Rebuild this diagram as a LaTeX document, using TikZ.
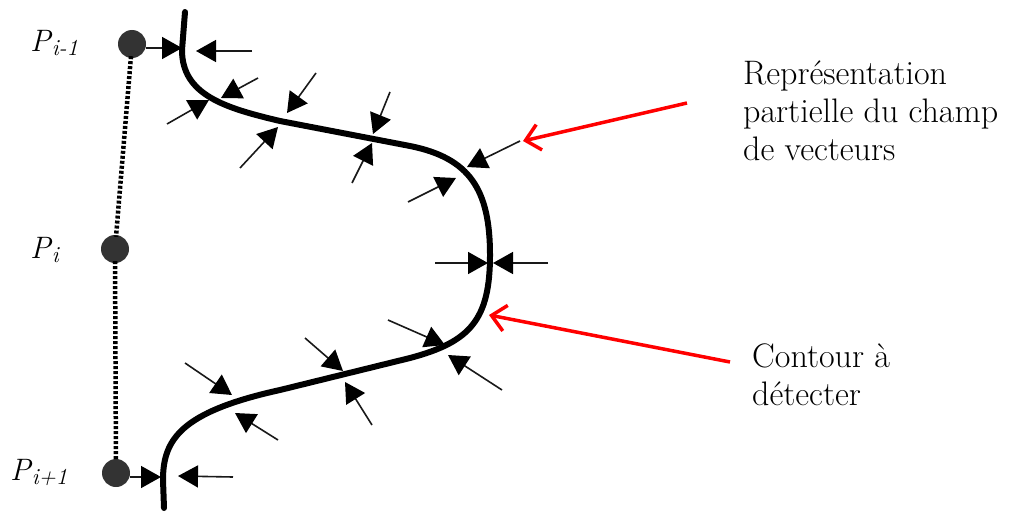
\documentclass[tikz,border=0pt]{standalone}
\usetikzlibrary{arrows.meta}
\definecolor{dotgray}{HTML}{333333}
\newcommand{\subtxt}[1]{\raisebox{-4pt}{\fontsize{23}{23}\selectfont #1}}
\begin{document}
\begin{tikzpicture}[x=1pt,y=-1pt,
  vec/.style={draw=black!90, line width=1.6pt, -{Triangle[length=20pt,width=22pt,color=black]}},
  redarrow/.style={draw=red, line width=3.5pt, -{Straight Barb[length=14pt,width=26pt]}},
  pt/.style={circle, fill=dotgray, inner sep=0pt, minimum size=28pt},
  plabel/.style={inner sep=0pt, anchor=base west, font=\fontsize{31}{32}\selectfont\itshape},
  note/.style={inner sep=0pt, align=left, anchor=north west, font=\fontsize{34}{38}\selectfont},
  chain/.style={draw=black, line width=4.5pt, dash pattern=on 3pt off 2pt, shorten >=-2pt, shorten <=-2pt}]
\useasboundingbox (0,0) rectangle (1016,511);

% points
\node[pt] (pim1) at (132,44) {};
\node[pt] (pi) at (115,249) {};
\node[pt] (pip1) at (116,473) {};
\node[plabel] (lim1) at (30,52) {P\kern1pt\subtxt{i-1}};
\node[plabel] (li) at (30,258) {P\kern1pt\subtxt{i}};
\node[plabel] (lip1) at (10,480) {P\kern1pt\subtxt{i+1}};
\draw[chain] (pim1) -- (pi);
\draw[chain] (pi) -- (pip1);

% contour
\draw[line width=6pt, line cap=round]
  (185,12) -- (182,50) .. controls (182,95) and (225,108) .. (280,121)
  -- (410,146) .. controls (470,158) and (490,190) .. (490,255)
  .. controls (490,320) and (470,342) .. (410,358)
  -- (280,390) .. controls (180,412) and (163,440) .. (163,480) -- (164,508);

% vector field arrows
\coordinate (a1t) at (182,48);
\coordinate (a2s) at (252,51); \coordinate (a2t) at (196,51);
\coordinate (a3s) at (167,124); \coordinate (a3t) at (209,100);
\coordinate (a4s) at (258,78); \coordinate (a4t) at (221,98);
\coordinate (a5s) at (316,73); \coordinate (a5t) at (287,113);
\coordinate (a6s) at (240,168); \coordinate (a6t) at (278,127);
\coordinate (a7s) at (390,92); \coordinate (a7t) at (373,134);
\coordinate (a8s) at (352,183); \coordinate (a8t) at (372,143);
\coordinate (a9s) at (520,141); \coordinate (a9t) at (467,167);
\coordinate (a10s) at (408,202); \coordinate (a10t) at (456,178);
\coordinate (a11s) at (435,263); \coordinate (a11t) at (488,263);
\coordinate (a12s) at (548,263); \coordinate (a12t) at (493,263);
\coordinate (a13s) at (388,320); \coordinate (a13t) at (445,345);
\coordinate (a14s) at (502,390); \coordinate (a14t) at (448,355);
\coordinate (a15s) at (305,338); \coordinate (a15t) at (343,371);
\coordinate (a16s) at (372,425); \coordinate (a16t) at (345,382);
\coordinate (a17s) at (185,363); \coordinate (a17t) at (232,395);
\coordinate (a18s) at (278,440); \coordinate (a18t) at (235,413);
\coordinate (a19t) at (161,477);
\coordinate (a20s) at (233,477); \coordinate (a20t) at (178,476);

\draw[vec] (pim1.east |- a1t) -- (a1t);
\draw[vec] (a2s) -- (a2t);
\draw[vec] (a3s) -- (a3t);
\draw[vec] (a4s) -- (a4t);
\draw[vec] (a5s) -- (a5t);
\draw[vec] (a6s) -- (a6t);
\draw[vec] (a7s) -- (a7t);
\draw[vec] (a8s) -- (a8t);
\draw[vec] (a9s) -- (a9t);
\draw[vec] (a10s) -- (a10t);
\draw[vec] (a11s) -- (a11t);
\draw[vec] (a12s) -- (a12t);
\draw[vec] (a13s) -- (a13t);
\draw[vec] (a14s) -- (a14t);
\draw[vec] (a15s) -- (a15t);
\draw[vec] (a16s) -- (a16t);
\draw[vec] (a17s) -- (a17t);
\draw[vec] (a18s) -- (a18t);
\draw[vec] (pip1.east |- a19t) -- (a19t);
\draw[vec] (a20s) -- (a20t);

% annotations
\node[note] (n1) at (743,61) {Représentation\\partielle du champ\\de vecteurs};
\node[note] (n2) at (752,344) {Contour à\\détecter};
\coordinate (r1s) at (687,103); \coordinate (r1t) at (523,141);
\coordinate (r2s) at (730,362); \coordinate (r2t) at (489,315);
\draw[redarrow] (r1s) -- (r1t);
\draw[redarrow] (r2s) -- (r2t);
\end{tikzpicture}
\end{document}
